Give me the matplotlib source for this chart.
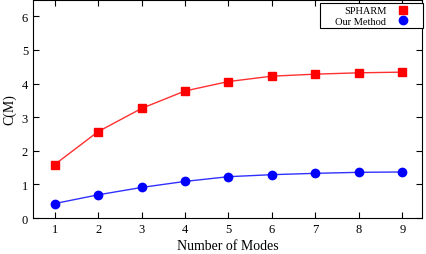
import matplotlib.pyplot as plt
import numpy as np

plt.rcParams['font.family'] = ['Liberation Serif', 'DejaVu Serif']

modes = [1, 2, 3, 4, 5, 6, 7, 8, 9]
spharm = [1.59, 2.57, 3.26, 3.78, 4.06, 4.22, 4.28, 4.32, 4.34]
ours = [0.43, 0.69, 0.91, 1.09, 1.23, 1.29, 1.33, 1.36, 1.37]

fig = plt.figure(figsize=(4.27, 2.55), dpi=100)
ax = fig.add_axes([0.077, 0.141, 0.911, 0.857])

ax.plot(modes, spharm, color='#ff3030', lw=1.0, marker='s', markersize=5.5,
        markerfacecolor='red', markeredgecolor='red', label='SPHARM')
ax.plot(modes, ours, color='#3030ff', lw=1.0, marker='o', markersize=6,
        markerfacecolor='blue', markeredgecolor='blue', label='     Our Method')

ax.set_xlim(0.5, 9.45)
ax.set_ylim(0, 6.5)
ax.set_xticks(modes)
ax.set_yticks(range(0, 7))
ax.tick_params(direction='in', top=True, right=True, labelsize=9, length=4.5)
ax.set_xlabel('Number of Modes', fontsize=10, labelpad=3)
ax.set_ylabel('C(M)', fontsize=10, labelpad=4)

leg = ax.legend(loc='upper right', bbox_to_anchor=(1.002, 0.982), markerfirst=False,
                fontsize=7.5, fancybox=False, edgecolor='black', framealpha=1,
                borderaxespad=0, handlelength=3.2, handletextpad=0.05,
                borderpad=0.25, labelspacing=0.1)
leg.get_frame().set_linewidth(0.8)
for h in leg.legend_handles:
    h.set_linestyle('none')

fig.savefig('out.png', dpi=100)
